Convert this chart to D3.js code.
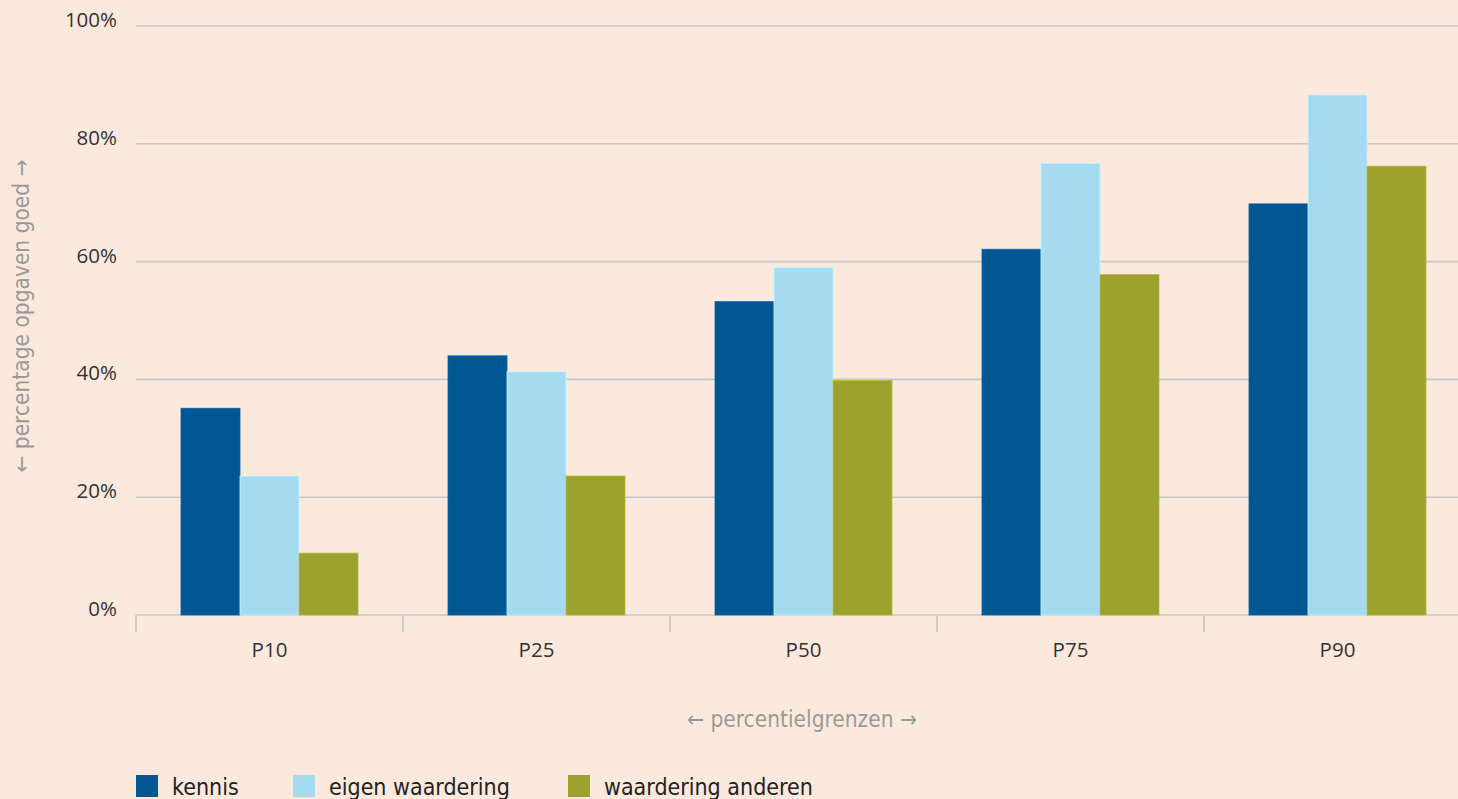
<!DOCTYPE html>
<html>
<head>
<meta charset="utf-8">
<script src="https://cdn.jsdelivr.net/npm/d3@7"></script>
<style>
  body { margin: 0; background: #fce9dd; }
  svg { display: block; }
  .tick-label { font-family: "Open Sans", sans-serif; font-size: 20.5px; fill: #333; }
  .title { font-family: "Liberation Sans Narrow", "DejaVu Sans Condensed", sans-serif; font-size: 22.5px; fill: #9a9a9a; }
  .legend-label { font-family: "Liberation Sans Narrow", "DejaVu Sans Condensed", sans-serif; font-size: 23px; fill: #222; }
</style>
</head>
<body>
<svg></svg>
<script>
const categories = ["P10", "P25", "P50", "P75", "P90"];
const seriesNames = ["kennis", "eigen waardering", "waardering anderen"];
const kennis = [35.1, 44.0, 53.2, 62.1, 69.8];
const eigenWaardering = [23.6, 41.3, 59.0, 76.7, 88.3];
const waarderingAnderen = [10.5, 23.6, 39.8, 57.8, 76.2];
const yTicks = [0, 20, 40, 60, 80, 100];
const colors = ["#005792", "#a6daf1", "#9da22e"];

const width = 1458;
const height = 799;
const margin = { top: 26, left: 136, bottom: 184, right: -13 };

const svg = d3.select("svg").attr("width", width).attr("height", height);

svg.append("rect")
  .attr("width", width).attr("height", height)
  .attr("fill", "#fce9dd");

const x0 = d3.scaleBand()
  .domain(categories)
  .range([margin.left, width - margin.right])
  .padding(0);

const x1 = d3.scaleBand()
  .domain(seriesNames)
  .range([45, x0.bandwidth() - 45]);

const y = d3.scaleLinear()
  .domain([0, 100])
  .range([height - margin.bottom, margin.top]);

// gridlines
svg.append("g")
  .selectAll("line")
  .data(yTicks)
  .join("line")
  .attr("x1", margin.left)
  .attr("x2", width)
  .attr("y1", d => y(d))
  .attr("y2", d => y(d))
  .attr("stroke", "#c7c7c9")
  .attr("stroke-width", 1.6);

// y labels
svg.append("g")
  .selectAll("text")
  .data(yTicks)
  .join("text")
  .attr("class", "tick-label")
  .attr("x", 117)
  .attr("y", d => y(d) + 1)
  .attr("text-anchor", "end")
  .text(d => d + "%");

// x axis ticks
const xAxis = d3.axisBottom(x0).tickSize(0).tickPadding(27);
const gx = svg.append("g")
  .attr("transform", `translate(0,${y(0)})`)
  .call(xAxis);
gx.select(".domain").remove();
gx.selectAll("text")
  .attr("class", "tick-label")
  .attr("font-size", null)
  .attr("font-family", null)
  .attr("fill", null)
  .style("font-size", "20.5px");

svg.append("g")
  .selectAll("line")
  .data(categories.concat(["end"]))
  .join("line")
  .attr("x1", (d, i) => margin.left + i * x0.step())
  .attr("x2", (d, i) => margin.left + i * x0.step())
  .attr("y1", y(0))
  .attr("y2", y(0) + 17)
  .attr("stroke", "#c7c7c9")
  .attr("stroke-width", 1.6);

// bars
const data = categories.map((c, i) => ({
  cat: c,
  values: [kennis[i], eigenWaardering[i], waarderingAnderen[i]]
}));

svg.append("g")
  .selectAll("g")
  .data(data)
  .join("g")
  .attr("transform", d => `translate(${x0(d.cat)},0)`)
  .selectAll("rect")
  .data(d => d.values.map((v, j) => ({ name: seriesNames[j], value: v, j })))
  .join("rect")
  .attr("x", d => x1(d.name))
  .attr("y", d => y(d.value))
  .attr("width", x1.bandwidth())
  .attr("height", d => y(0) - y(d.value))
  .attr("fill", d => colors[d.j])
  .attr("stroke", d => d3.color(colors[d.j]).brighter(0.4))
  .attr("stroke-width", 0.8);

// axis titles
svg.append("text")
  .attr("class", "title")
  .attr("transform", `translate(29,316) rotate(-90)`)
  .attr("text-anchor", "middle")
  .text("\u2190 percentage opgaven goed \u2192");

svg.append("text")
  .attr("class", "title")
  .attr("x", 802)
  .attr("y", 727)
  .attr("text-anchor", "middle")
  .text("\u2190 percentielgrenzen \u2192");

// legend
const legendX = [136, 293, 568];
const legend = svg.append("g")
  .selectAll("g")
  .data(seriesNames)
  .join("g")
  .attr("transform", (d, i) => `translate(${legendX[i]},775)`);

legend.append("rect")
  .attr("width", 22)
  .attr("height", 22)
  .attr("fill", (d, i) => colors[i]);

legend.append("text")
  .attr("class", "legend-label")
  .attr("x", 36)
  .attr("y", 20)
  .text(d => d);
</script>
</body>
</html>
